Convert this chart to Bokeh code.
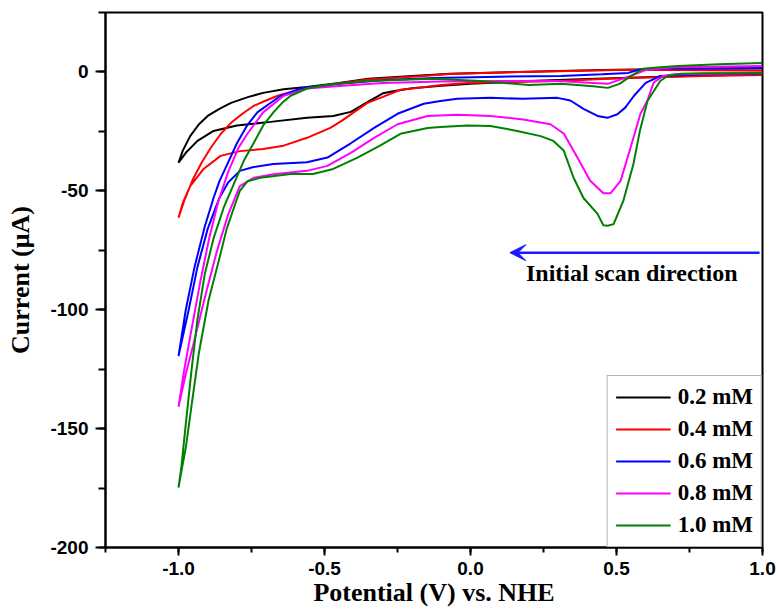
from bokeh.plotting import figure
from bokeh.models import (Range1d, SingleIntervalTicker, NumeralTickFormatter, Legend,
                          LegendItem, Arrow, VeeHead, Label)
from bokeh.embed import file_html
from bokeh.resources import INLINE

# ---------------- data (potential in V vs NHE, current in uA) ----------------
series_labels = ["0.2 mM", "0.4 mM", "0.6 mM", "0.8 mM", "1.0 mM"]
series_colors = ["#000000", "#ff0000", "#0000ff", "#ff00ff", "#008000"]

# 0.2 mM : forward (1.0 -> -1.0) then return (-1.0 -> 1.0)
e_02 = [1.0, 0.8, 0.6, 0.4, 0.2, 0.0, -0.1, -0.2, -0.26, -0.3, -0.35, -0.41, -0.47, -0.56,
        -0.685, -0.8, -0.88, -0.935, -0.975, -1.0,
        -0.985, -0.96, -0.93, -0.9, -0.86, -0.82, -0.76, -0.71, -0.64, -0.56, -0.45, -0.35,
        -0.2, -0.07, 0.1, 0.3, 0.5, 0.7, 1.0]
i_02 = [-1.0, -1.5, -2.2, -3.0, -3.8, -5.0, -5.8, -6.9, -8.0, -9.0, -12.5, -16.8, -18.5, -19.3,
        -21.0, -22.5, -24.8, -29.0, -34.0, -38.2,
        -33.0, -27.0, -22.0, -18.5, -15.5, -13.0, -10.5, -8.8, -7.3, -6.3, -4.6, -2.9,
        -1.7, -0.8, -0.2, 0.4, 0.9, 1.2, 1.5]

# 0.4 mM
e_04 = [1.0, 0.8, 0.6, 0.45, 0.31, 0.15, -0.01, -0.1, -0.18, -0.24, -0.3, -0.353, -0.4, -0.44,
        -0.48, -0.56, -0.64, -0.71, -0.79, -0.856, -0.914, -0.96, -0.985, -1.0,
        -0.98, -0.95, -0.92, -0.89, -0.855, -0.82, -0.78, -0.743, -0.7, -0.66, -0.57, -0.46,
        -0.35, -0.2, -0.07, 0.1, 0.3, 0.5, 0.7, 1.0]
i_04 = [-1.3, -1.7, -2.3, -3.0, -3.8, -4.2, -4.6, -5.5, -6.7, -7.5, -10.5, -13.0, -17.0, -20.5,
        -23.5, -27.7, -31.0, -32.4, -33.3, -35.3, -40.8, -48.0, -55.0, -61.3,
        -54.0, -45.0, -38.0, -32.0, -26.0, -21.4, -17.5, -14.3, -12.0, -10.0, -7.0, -5.0,
        -3.2, -2.0, -0.9, -0.2, 0.3, 0.8, 0.8, 0.5]

# 0.6 mM
e_06 = [1.0, 0.8, 0.65, 0.6, 0.56, 0.53, 0.503, 0.469, 0.435, 0.387, 0.342, 0.298, 0.18, 0.068,
        -0.045, -0.103, -0.16, -0.25, -0.33, -0.41, -0.49, -0.56, -0.675, -0.743, -0.79,
        -0.83, -0.86, -0.9, -0.935, -0.965, -1.0,
        -0.975, -0.945, -0.91, -0.88, -0.86, -0.83, -0.8, -0.765, -0.73, -0.69, -0.65, -0.6,
        -0.57, -0.45, -0.3, -0.127, 0.1, 0.31, 0.45, 0.54, 0.58, 0.7, 1.0]
i_06 = [-0.8, -1.0, -1.7, -4.6, -10.0, -15.0, -17.8, -19.3, -18.5, -15.5, -12.0, -10.9, -11.3, -10.9,
        -11.3, -12.2, -13.4, -17.6, -23.5, -30.0, -36.0, -38.0, -38.7, -40.0, -41.6,
        -46.5, -53.0, -66.0, -82.0, -100.0, -119.5,
        -100.0, -82.0, -65.0, -53.0, -46.0, -38.0, -30.0, -22.5, -17.0, -13.5, -10.0, -7.8,
        -6.7, -5.0, -3.5, -2.5, -2.0, -1.7, -1.0, -0.4, 1.0, 1.5, 1.7]

# 0.8 mM
e_08 = [1.0, 0.8, 0.7, 0.66, 0.627, 0.606, 0.582, 0.548, 0.514, 0.48, 0.455, 0.41, 0.366, 0.32,
        0.274, 0.18, 0.068, -0.045, -0.147, -0.25, -0.33, -0.41, -0.49, -0.56, -0.675, -0.743,
        -0.79, -0.83, -0.87, -0.91, -0.95, -0.975, -1.0,
        -0.98, -0.955, -0.925, -0.895, -0.865, -0.83, -0.795, -0.764, -0.71, -0.64, -0.56,
        -0.45, -0.3, -0.1, 0.1, 0.3, 0.42, 0.47, 0.53, 0.6, 0.7, 1.0]
i_08 = [-0.5, -0.8, -1.0, -1.7, -4.5, -12.0, -17.6, -31.9, -45.8, -51.0, -51.0, -45.8, -36.0, -26.0,
        -22.0, -20.0, -18.5, -18.0, -18.5, -22.0, -27.7, -34.0, -39.5, -41.6, -43.0, -44.5,
        -48.0, -60.0, -76.0, -95.0, -115.0, -127.0, -140.8,
        -125.0, -108.0, -88.0, -70.0, -55.0, -42.0, -32.0, -26.0, -17.0, -10.0, -7.0,
        -5.9, -4.6, -4.0, -3.8, -3.8, -4.6, -5.0, -2.5, 0.8, 2.0, 2.5]

# 1.0 mM
e_10 = [1.0, 0.8, 0.72, 0.675, 0.65, 0.606, 0.58, 0.558, 0.524, 0.49, 0.47, 0.455, 0.435, 0.387,
        0.353, 0.319, 0.284, 0.24, 0.16, 0.068, -0.01, -0.103, -0.147, -0.24, -0.31, -0.387,
        -0.47, -0.54, -0.616, -0.72, -0.764, -0.79, -0.81, -0.835, -0.856, -0.897, -0.93,
        -0.955, -0.975, -0.99, -1.0,
        -0.99, -0.975, -0.955, -0.935, -0.91, -0.88, -0.845, -0.81, -0.775, -0.743, -0.71,
        -0.675, -0.645, -0.616, -0.56, -0.48, -0.353, -0.127, 0.034, 0.2, 0.31, 0.42, 0.47,
        0.51, 0.54, 0.59, 0.65, 0.71, 0.85, 1.0]
i_10 = [-0.4, -0.6, -0.8, -1.7, -3.8, -12.2, -24.8, -38.7, -54.0, -64.0, -64.7, -64.5, -59.7, -53.0,
        -44.5, -33.0, -29.0, -27.0, -24.8, -22.7, -22.5, -23.2, -23.6, -26.0, -31.0, -36.0,
        -40.8, -42.9, -42.9, -44.5, -46.0, -50.0, -57.0, -66.0, -76.5, -96.0, -118.0,
        -140.0, -158.0, -168.0, -174.8,
        -166.0, -148.0, -125.0, -104.0, -85.0, -70.0, -57.0, -47.0, -37.0, -30.0, -22.5,
        -17.0, -13.0, -10.0, -7.0, -5.3, -3.8, -2.9, -3.8, -5.5, -5.0, -6.0, -6.7,
        -5.0, -2.5, 1.3, 2.0, 2.5, 3.2, 3.8]

potentials = [e_02, e_04, e_06, e_08, e_10]
currents = [i_02, i_04, i_06, i_08, i_10]

# annotation (data units)
arrow_x_start, arrow_x_end, arrow_y = 0.99, 0.135, -76.0
note_text = "Initial scan direction"
note_x, note_y = 0.19, -84.5

SERIF = "Liberation Serif"
SANS = "Liberation Sans"

p = figure(width=780, height=613, output_backend="svg", toolbar_location=None,
           x_range=Range1d(-1.25, 1.0), y_range=Range1d(-200, 25),
           min_border_left=105, min_border_right=18, min_border_top=12, min_border_bottom=66)
p.grid.visible = False
p.outline_line_color = "black"
p.outline_line_width = 2
p.background_fill_color = "white"
p.border_fill_color = "white"

renderers = []
for e, i, c in zip(potentials, currents, series_colors):
    r = p.line(e, i, line_color=c, line_width=2)
    renderers.append(r)

# axes
p.xaxis.ticker = SingleIntervalTicker(interval=0.5, num_minor_ticks=2)
p.yaxis.ticker = SingleIntervalTicker(interval=50, num_minor_ticks=2)
p.xaxis.formatter = NumeralTickFormatter(format="0.0")
p.yaxis.formatter = NumeralTickFormatter(format="0")
for ax in (p.xaxis[0], p.yaxis[0]):
    ax.axis_line_width = 2
    ax.axis_line_color = "black"
    ax.major_tick_line_width = 2
    ax.minor_tick_line_width = 2
    ax.major_tick_in = 0
    ax.minor_tick_in = 0
    ax.major_label_text_font = SANS
    ax.major_label_text_font_style = "bold"
    ax.major_label_text_font_size = "19px"
    ax.major_label_text_color = "black"
    ax.axis_label_text_font = SERIF
    ax.axis_label_text_font_style = "bold"
    ax.axis_label_text_font_size = "26px"
    ax.axis_label_text_color = "black"
p.xaxis.major_tick_out = 8
p.xaxis.minor_tick_out = 5
p.yaxis.major_tick_out = 10
p.yaxis.minor_tick_out = 7
p.xaxis.major_label_standoff = 6
p.yaxis.major_label_standoff = 7
p.xaxis.axis_label_standoff = 0
p.yaxis.axis_label_standoff = 12
p.xaxis.axis_label = "Potential (V) vs. NHE"
p.yaxis.axis_label = "Current (\u03bcA)"

legend = Legend(items=[LegendItem(label=l, renderers=[r]) for l, r in zip(series_labels, renderers)],
                location="bottom_right", margin=0, padding=8, spacing=6,
                glyph_width=55, glyph_height=24, label_height=24, label_standoff=7,
                label_text_font=SERIF, label_text_font_style="bold", label_text_font_size="23px",
                label_text_color="black",
                border_line_color="#666666", border_line_width=1.5,
                background_fill_color="white", background_fill_alpha=1)
p.add_layout(legend)

p.add_layout(Arrow(end=VeeHead(size=16, fill_color="#1a1aff", line_color="#1a1aff"),
                   x_start=arrow_x_start, y_start=arrow_y, x_end=arrow_x_end, y_end=arrow_y,
                   line_color="#1a1aff", line_width=2.5))
p.add_layout(Label(x=note_x, y=note_y, text=note_text, text_font=SERIF,
                   text_font_style="bold", text_font_size="24px", text_color="black",
                   text_baseline="alphabetic"))

open("out.html", "w").write(file_html(p, INLINE))
